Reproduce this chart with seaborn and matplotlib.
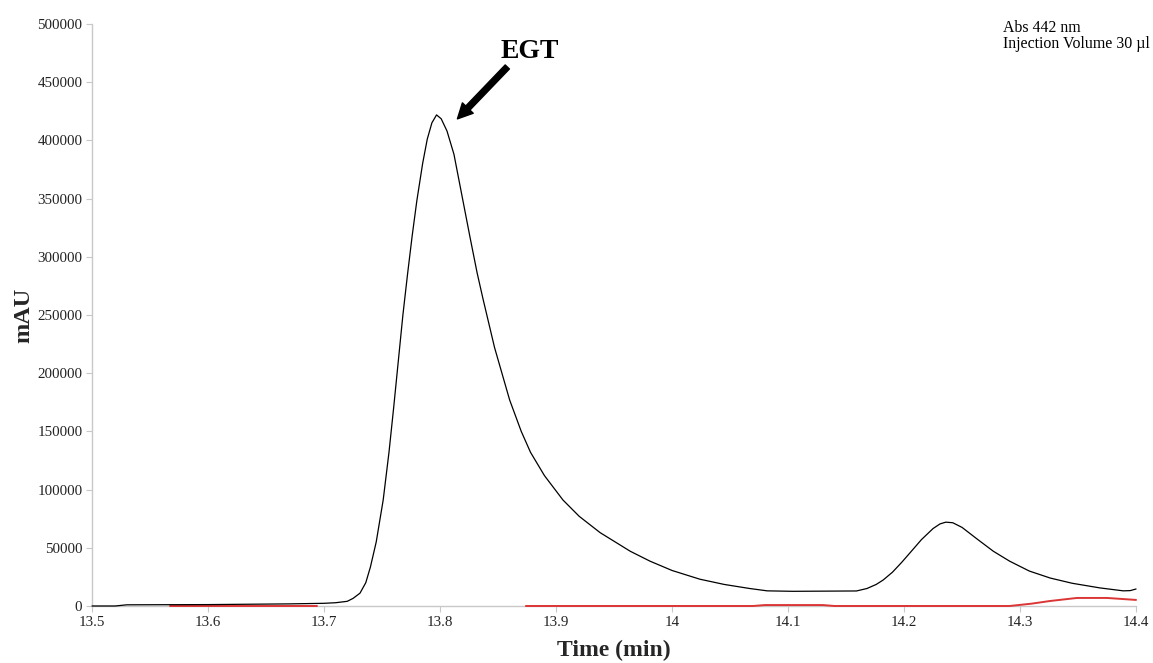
import matplotlib
matplotlib.use("Agg")
import matplotlib.pyplot as plt
import seaborn as sns
import pandas as pd

# ---- data ----
black_t = [13.50, 13.52, 13.53, 13.60, 13.67, 13.70, 13.71, 13.72, 13.725, 13.731,
           13.736, 13.740, 13.745, 13.751, 13.756, 13.760, 13.764, 13.768, 13.772,
           13.776, 13.780, 13.785, 13.789, 13.793, 13.797, 13.801, 13.806, 13.812,
           13.819, 13.826, 13.832, 13.837, 13.847, 13.860, 13.870, 13.878, 13.890,
           13.906, 13.920, 13.938, 13.964, 13.981, 14.000, 14.024, 14.045, 14.067,
           14.082, 14.104, 14.159, 14.168, 14.176, 14.182, 14.190, 14.198, 14.205,
           14.215, 14.225, 14.231, 14.236, 14.242, 14.250, 14.263, 14.277, 14.291,
           14.308, 14.326, 14.345, 14.369, 14.389, 14.395, 14.400]
black_v = [0, 0, 1000, 1200, 1800, 2300, 2800, 4000, 6500, 11000,
           20000, 33500, 55000, 91000, 132000, 170000, 210000, 250000, 285000,
           318000, 348000, 380000, 401000, 415000, 421800, 418500, 408000, 388000,
           352000, 316000, 286000, 264000, 222000, 177000, 150000, 132000, 112000,
           91000, 77000, 63000, 47000, 38500, 30500, 23000, 18500, 15000,
           13000, 12600, 12900, 15000, 18500, 22300, 29000, 37500, 45500,
           57000, 66500, 70500, 72000, 71500, 67500, 57500, 47000, 38500,
           30000, 24000, 19500, 15500, 13000, 13200, 14600]

red1_t = [13.567, 13.694]
red1_v = [0, 0]
red2_t = [13.874, 14.070, 14.080, 14.130, 14.140, 14.291, 14.310, 14.326, 14.349, 14.375, 14.400]
red2_v = [0, 0, 800, 800, 0, 0, 2000, 4300, 6900, 6900, 5200]

x_ticks = [13.5, 13.6, 13.7, 13.8, 13.9, 14.0, 14.1, 14.2, 14.3, 14.4]
x_tick_labels = ["13.5", "13.6", "13.7", "13.8", "13.9", "14", "14.1", "14.2", "14.3", "14.4"]
y_ticks = [0, 50000, 100000, 150000, 200000, 250000, 300000, 350000, 400000, 450000, 500000]

sns.set_theme(style="white")
plt.rcParams['font.family'] = ['Liberation Serif', 'DejaVu Serif']
plt.rcParams['text.color'] = 'black'

fig = plt.figure(figsize=(11.53, 6.63), dpi=100)
ax = fig.add_axes([0.0798, 0.086, 0.9055, 0.878])

df_b = pd.DataFrame({"t": black_t, "v": black_v})
df_r1 = pd.DataFrame({"t": red1_t, "v": red1_v})
df_r2 = pd.DataFrame({"t": red2_t, "v": red2_v})

for d in (df_r1, df_r2):
    sns.lineplot(data=d, x="t", y="v", ax=ax, color="#dc3535", linewidth=1.4, sort=False,
                 zorder=5, clip_on=False)
sns.lineplot(data=df_b, x="t", y="v", ax=ax, color="black", linewidth=0.9, sort=False,
             zorder=6, clip_on=False)

ax.set_xlim(13.5, 14.4)
ax.set_ylim(0, 500000)
ax.set_xticks(x_ticks)
ax.set_xticklabels(x_tick_labels)
ax.set_yticks(y_ticks)
ax.set_yticklabels([str(v) for v in y_ticks])

for s in ["top", "right"]:
    ax.spines[s].set_visible(False)
for s in ["left", "bottom"]:
    ax.spines[s].set_color("#c8c8c8")
    ax.spines[s].set_linewidth(1.0)
    ax.spines[s].set_zorder(1)
ax.tick_params(axis="both", which="both", direction="out", length=4, width=0.8,
               color="#c8c8c8", labelsize=10.8, labelcolor="#222222", pad=3,
               bottom=True, left=True)
ax.grid(False)

ax.set_xlabel("Time (min)", fontsize=17, fontweight="bold", labelpad=8)
ax.set_ylabel("mAU", fontsize=17.5, fontweight="bold", labelpad=2)

ax.annotate("", xy=(13.815, 418400), xytext=(13.858, 463000),
            arrowprops=dict(arrowstyle="simple,head_length=0.9,head_width=0.9,tail_width=0.35",
                            color="black", shrinkA=0, shrinkB=0))
ax.text(13.8776, 476000, "EGT", fontsize=20, fontweight="bold", ha="center", va="center")

ax.text(14.2853, 496500, "Abs 442 nm", fontsize=11.4, ha="left", va="center")
ax.text(14.2853, 482500, "Injection Volume 30 µl", fontsize=11.4, ha="left", va="center")

fig.savefig("out.png", dpi=100, facecolor="white")
